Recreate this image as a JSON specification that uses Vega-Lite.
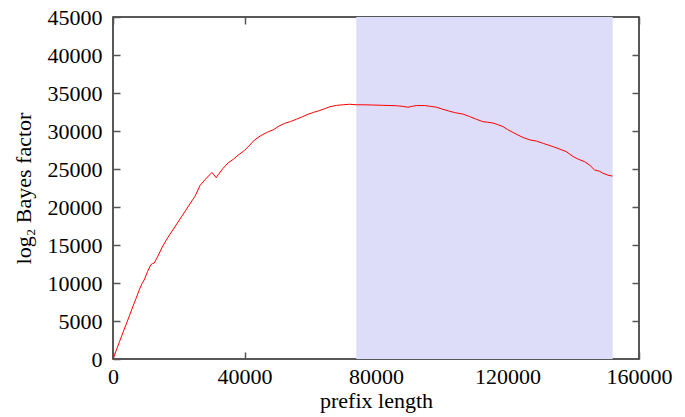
{
  "$schema": "https://vega.github.io/schema/vega-lite/v6.json",
  "width": 526,
  "height": 342,
  "autosize": {"type": "none"},
  "padding": {"left": 113, "top": 17, "right": 46, "bottom": 58},
  "background": "white",
  "config": {
    "view": {"stroke": "#222", "strokeWidth": 1.5},
    "font": "Liberation Serif",
    "axis": {
      "domain": false,
      "grid": false,
      "labelFont": "Liberation Serif",
      "labelFontSize": 22,
      "labelColor": "#000",
      "titleFont": "Liberation Serif",
      "titleFontSize": 22,
      "titleFontWeight": "normal",
      "titleColor": "#000",
      "tickColor": "#555",
      "tickWidth": 1.5,
      "tickSize": -7,
      "format": "d"
    }
  },
  "datasets": {
    "band": [{"start": 74000, "end": 152000}],
    "curve": [
      {"prefix": 0, "bf": 0},
      {"prefix": 1000, "bf": 1150},
      {"prefix": 2000, "bf": 2300},
      {"prefix": 3000, "bf": 3450},
      {"prefix": 4000, "bf": 4550},
      {"prefix": 5000, "bf": 5700},
      {"prefix": 6000, "bf": 6850},
      {"prefix": 7000, "bf": 7950},
      {"prefix": 8000, "bf": 9100},
      {"prefix": 8800, "bf": 9900},
      {"prefix": 9500, "bf": 10400},
      {"prefix": 10500, "bf": 11500},
      {"prefix": 11500, "bf": 12400},
      {"prefix": 12000, "bf": 12550},
      {"prefix": 12500, "bf": 12600},
      {"prefix": 13500, "bf": 13400},
      {"prefix": 15000, "bf": 14750},
      {"prefix": 16700, "bf": 16000},
      {"prefix": 18000, "bf": 16850},
      {"prefix": 20000, "bf": 18170},
      {"prefix": 22000, "bf": 19480},
      {"prefix": 24000, "bf": 20800},
      {"prefix": 25000, "bf": 21450},
      {"prefix": 26500, "bf": 22850},
      {"prefix": 28000, "bf": 23600},
      {"prefix": 30100, "bf": 24550},
      {"prefix": 31400, "bf": 23850},
      {"prefix": 32000, "bf": 24250},
      {"prefix": 33400, "bf": 25050},
      {"prefix": 35000, "bf": 25800},
      {"prefix": 36500, "bf": 26250},
      {"prefix": 38000, "bf": 26800},
      {"prefix": 40000, "bf": 27450},
      {"prefix": 41500, "bf": 28100},
      {"prefix": 43000, "bf": 28800},
      {"prefix": 45000, "bf": 29400},
      {"prefix": 47000, "bf": 29850},
      {"prefix": 48700, "bf": 30150},
      {"prefix": 50500, "bf": 30650},
      {"prefix": 52200, "bf": 31000},
      {"prefix": 54000, "bf": 31250},
      {"prefix": 55800, "bf": 31550},
      {"prefix": 57500, "bf": 31850},
      {"prefix": 59300, "bf": 32200},
      {"prefix": 61000, "bf": 32450},
      {"prefix": 62900, "bf": 32700},
      {"prefix": 64500, "bf": 32950},
      {"prefix": 66000, "bf": 33200},
      {"prefix": 68000, "bf": 33370},
      {"prefix": 70000, "bf": 33450},
      {"prefix": 72000, "bf": 33520},
      {"prefix": 74000, "bf": 33450},
      {"prefix": 76000, "bf": 33450},
      {"prefix": 79000, "bf": 33420},
      {"prefix": 82000, "bf": 33380},
      {"prefix": 86000, "bf": 33330},
      {"prefix": 88000, "bf": 33250},
      {"prefix": 89700, "bf": 33130},
      {"prefix": 91000, "bf": 33250},
      {"prefix": 92300, "bf": 33350},
      {"prefix": 94800, "bf": 33350},
      {"prefix": 96500, "bf": 33250},
      {"prefix": 98400, "bf": 33130},
      {"prefix": 100000, "bf": 32900},
      {"prefix": 102000, "bf": 32650},
      {"prefix": 103900, "bf": 32420},
      {"prefix": 106500, "bf": 32220},
      {"prefix": 108500, "bf": 31900},
      {"prefix": 110500, "bf": 31550},
      {"prefix": 112500, "bf": 31230},
      {"prefix": 114000, "bf": 31150},
      {"prefix": 115600, "bf": 31050},
      {"prefix": 117000, "bf": 30850},
      {"prefix": 118600, "bf": 30580},
      {"prefix": 120000, "bf": 30200},
      {"prefix": 121700, "bf": 29800},
      {"prefix": 123500, "bf": 29400},
      {"prefix": 125000, "bf": 29100},
      {"prefix": 126800, "bf": 28830},
      {"prefix": 128800, "bf": 28680},
      {"prefix": 131000, "bf": 28350},
      {"prefix": 133800, "bf": 27950},
      {"prefix": 136000, "bf": 27600},
      {"prefix": 137900, "bf": 27280},
      {"prefix": 139900, "bf": 26650},
      {"prefix": 141500, "bf": 26300},
      {"prefix": 143500, "bf": 25950},
      {"prefix": 145000, "bf": 25500},
      {"prefix": 146500, "bf": 24880},
      {"prefix": 148000, "bf": 24700},
      {"prefix": 149000, "bf": 24450},
      {"prefix": 150500, "bf": 24200},
      {"prefix": 151900, "bf": 24070}
    ]
  },
  "layer": [
    {
      "data": {"name": "band"},
      "mark": {"type": "rect", "color": "#dddcf9", "opacity": 1},
      "encoding": {
        "x": {
          "field": "start", "type": "quantitative",
          "scale": {"domain": [0, 160000], "nice": false, "zero": false},
          "axis": {"orient": "bottom", "title": "prefix length", "format": "d", "labelFont": "Liberation Serif", "labelFontSize": 22, "titleFont": "Liberation Serif", "titleFontSize": 22, "values": [0, 40000, 80000, 120000, 160000], "labelPadding": 14, "titlePadding": 3, "labelFlush": false, "labelOverlap": false}
        },
        "x2": {"field": "end"}
      }
    },
    {
      "data": {"name": "curve"},
      "mark": {"type": "line", "color": "#ff0000", "strokeWidth": 1, "interpolate": "linear"},
      "encoding": {
        "x": {
          "field": "prefix", "type": "quantitative",
          "scale": {"domain": [0, 160000], "nice": false, "zero": false},
          "axis": {"orient": "top", "title": null, "labels": false, "values": [0, 40000, 80000, 120000, 160000]}
        },
        "y": {
          "field": "bf", "type": "quantitative",
          "scale": {"domain": [0, 45000], "nice": false, "zero": false},
          "axis": {"orient": "left", "title": "log₂ Bayes factor", "format": "d", "labelFont": "Liberation Serif", "labelFontSize": 22, "titleFont": "Liberation Serif", "titleFontSize": 22, "values": [0, 5000, 10000, 15000, 20000, 25000, 30000, 35000, 40000, 45000], "labelPadding": 18, "titlePadding": 12, "labelFlush": false, "labelOverlap": false}
        }
      }
    },
    {
      "data": {"name": "curve"},
      "mark": {"type": "line", "opacity": 0},
      "encoding": {
        "x": {"field": "prefix", "type": "quantitative", "scale": {"domain": [0, 160000], "nice": false, "zero": false}, "axis": null},
        "y": {
          "field": "bf", "type": "quantitative",
          "scale": {"domain": [0, 45000], "nice": false, "zero": false},
          "axis": {"orient": "right", "title": null, "labels": false, "values": [5000, 10000, 15000, 20000, 25000, 30000, 35000, 40000]}
        }
      }
    }
  ],
  "resolve": {"axis": {"x": "independent", "y": "independent"}}
}
